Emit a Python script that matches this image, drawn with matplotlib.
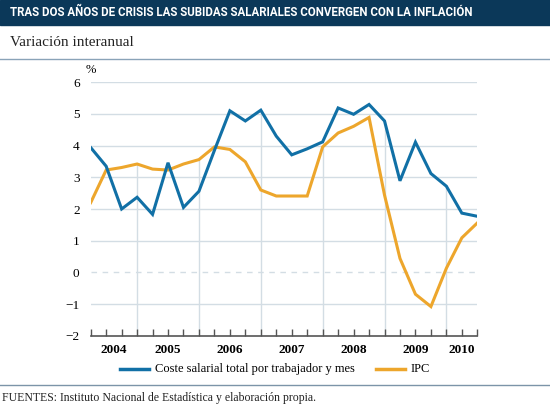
import matplotlib
matplotlib.use("Agg")
import matplotlib.pyplot as plt
from matplotlib.lines import Line2D

# quarterly data 2004Q1 - 2010Q2
coste = [3.94, 3.35, 2.0, 2.37, 1.83, 3.46, 2.05, 2.56,
         3.85, 5.1, 4.78, 5.12, 4.3, 3.71, 3.9, 4.12,
         5.19, 4.99, 5.3, 4.78, 2.89, 4.11, 3.12, 2.72,
         1.87, 1.77]
ipc = [2.2, 3.23, 3.31, 3.42, 3.26, 3.23, 3.42, 3.56,
       3.96, 3.88, 3.49, 2.6, 2.41, 2.41, 2.41, 3.96,
       4.4, 4.61, 4.89, 2.44, 0.44, -0.69, -1.08, 0.13,
       1.09, 1.56]
years = ['2004', '2005', '2006', '2007', '2008', '2009', '2010']
year_pos = [1.5, 5, 9, 13, 17, 21, 24]
year_ends = [3, 7, 11, 15, 19, 23]   # Q4 of each year
yticks = [-2, -1, 0, 1, 2, 3, 4, 5, 6]

blue = '#1170a6'
orange = '#eda62c'
grid_c = '#d3dde4'
serif = 'Liberation Serif'

fig = plt.figure(figsize=(5.5, 4.08), dpi=100)

# title bar
fig.patches.append(plt.Rectangle((0, 1 - 25 / 408), 1, 25 / 408, transform=fig.transFigure,
                                 color='#0b3859', zorder=0))
title = fig.text(10 / 550, 1 - 13 / 408,
                 'TRAS DOS AÑOS DE CRISIS LAS SUBIDAS SALARIALES CONVERGEN CON LA INFLACIÓN',
                 color='white', fontsize=10, fontweight='bold', fontstretch='condensed',
                 family='Roboto', va='center', ha='left')
# shrink the title until it is about as wide as in the original
renderer = fig.canvas.get_renderer()
while title.get_window_extent(renderer).width > 466:
    title.set_fontsize(title.get_fontsize() - 0.1)

fig.text(10 / 550, 1 - 42 / 408, 'Variación interanual', fontsize=11, family=serif,
         va='center', ha='left', color='#222222')
fig.add_artist(Line2D([0, 1], [1 - 59 / 408] * 2, transform=fig.transFigure, color='#8aa3b8', lw=1))
fig.add_artist(Line2D([0, 1], [1 - 385 / 408] * 2, transform=fig.transFigure, color='#7c94a8', lw=1))
fig.text(2 / 550, 1 - 398 / 408, 'FUENTES: Instituto Nacional de Estadística y elaboración propia.',
         fontsize=8.5, family=serif, va='center', ha='left', color='#222222')

ax = fig.add_axes([90.7 / 550, 1 - 335.7 / 408, (477.3 - 90.7) / 550, (335.7 - 82.3) / 408])
x = list(range(len(coste)))
ax.set_xlim(0, len(coste) - 1)
ax.set_ylim(-2, 6)

for y in yticks[1:]:
    ax.axhline(y, color=grid_c, lw=1, ls=(0, (4, 4)) if y == 0 else '-', zorder=1)
for i in year_ends:
    ax.vlines(i, -2, max(coste[i], ipc[i]), color=grid_c, lw=1, zorder=1)

ax.plot(x, ipc, color=orange, lw=2.2, zorder=3, solid_joinstyle='miter')
ax.plot(x, coste, color=blue, lw=2.2, zorder=4, solid_joinstyle='miter')

for s in ['top', 'right', 'left']:
    ax.spines[s].set_visible(False)
ax.spines['bottom'].set_color('#555555')
ax.spines['bottom'].set_linewidth(1.2)
ax.spines['bottom'].set_zorder(5)

ax.set_yticks(yticks)
ax.set_yticklabels([str(v).replace('-', '\u2212') for v in yticks], family=serif, fontsize=9.5)
ax.tick_params(axis='y', length=0, pad=8)

ax.set_xticks(x)
ax.set_xticklabels([])
ax.tick_params(axis='x', direction='in', length=5, width=1, color='#555555')
for p, yr in zip(year_pos, years):
    ax.text(p, -2.45, yr, ha='center', va='center', family=serif, fontsize=9.5, fontweight='bold')
ax.text(0, 6.4, '%', ha='center', va='center', family=serif, fontsize=9)

# legend
fig.add_artist(Line2D([120 / 550, 149 / 550], [1 - 369 / 408] * 2, transform=fig.transFigure, color=blue, lw=2.5))
fig.text(155 / 550, 1 - 369 / 408, 'Coste salarial total por trabajador y mes', fontsize=9,
         family=serif, va='center')
fig.add_artist(Line2D([376 / 550, 405 / 550], [1 - 369 / 408] * 2, transform=fig.transFigure, color=orange, lw=2.5))
fig.text(411 / 550, 1 - 369 / 408, 'IPC', fontsize=9, family=serif, va='center')

fig.savefig('out.png', dpi=100)
